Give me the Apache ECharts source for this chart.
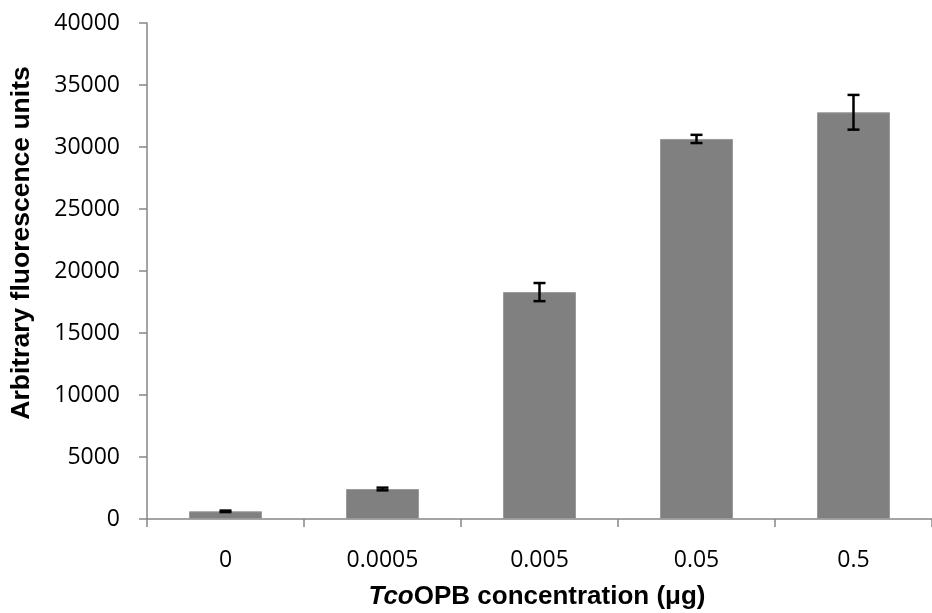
<!DOCTYPE html>
<html>
<head>
<meta charset="utf-8">
<script src="https://cdn.jsdelivr.net/npm/echarts@6/dist/echarts.min.js"></script>
<style>html,body{margin:0;padding:0;background:#fff}#c{width:932px;height:613px}</style>
</head>
<body>
<div id="c"></div>
<script>
const categories = ['0', '0.0005', '0.005', '0.05', '0.5'];
const values = [620, 2420, 18300, 30650, 32800];
const errors = [60, 110, 730, 330, 1400];
const yTicks = [0, 5000, 10000, 15000, 20000, 25000, 30000, 35000, 40000];
const xTitleItalic = 'Tco';
const xTitleRest = 'OPB concentration (μg)';
const yTitle = 'Arbitrary fluorescence units';

const chart = echarts.init(document.getElementById('c'));
const errData = categories.map((c, i) => [i, values[i] - errors[i], values[i] + errors[i]]);

chart.setOption({
  animation: false,
  backgroundColor: '#fff',
  grid: { left: 147, right: -8, top: 23, bottom: 94 },
  graphic: [
    {
      type: 'text',
      x: 22, y: 243,
      rotation: Math.PI / 2,
      style: {
        text: yTitle,
        align: 'center', verticalAlign: 'middle',
        fontFamily: 'Liberation Sans', fontWeight: 'bold', fontSize: 26.5, fill: '#000'
      }
    },
    {
      type: 'text',
      x: 537, y: 597,
      style: {
        text: '{i|' + xTitleItalic + '}{b|' + xTitleRest + '}',
        align: 'center', verticalAlign: 'middle',
        rich: {
          i: { fontFamily: 'Liberation Sans', fontWeight: 'bold', fontStyle: 'italic', fontSize: 26, fill: '#000', color: '#000' },
          b: { fontFamily: 'Liberation Sans', fontWeight: 'bold', fontSize: 26, fill: '#000', color: '#000' }
        }
      }
    }
  ],
  xAxis: {
    type: 'category',
    data: categories,
    axisLine: { lineStyle: { color: '#868686', width: 1.5 } },
    axisTick: { show: true, length: 8, lineStyle: { color: '#868686', width: 1.5 } },
    axisLabel: { margin: 30, fontFamily: 'Open Sans', fontSize: 23, color: '#000' }
  },
  yAxis: {
    type: 'value',
    min: yTicks[0],
    max: yTicks[yTicks.length - 1],
    interval: 5000,
    splitLine: { show: false },
    axisLine: { show: true, lineStyle: { color: '#868686', width: 1.5 } },
    axisTick: { show: true, length: 8, lineStyle: { color: '#868686', width: 1.5 } },
    axisLabel: { margin: 27, fontFamily: 'Open Sans', fontSize: 23, color: '#000', formatter: v => String(v) }
  },
  series: [
    {
      type: 'bar',
      data: values,
      barWidth: 73,
      itemStyle: { color: '#808080', borderColor: '#9a9a9a', borderWidth: 1 }
    },
    {
      type: 'custom',
      data: errData,
      z: 10,
      renderItem: function (params, api) {
        const x = api.value(0);
        const lo = api.coord([x, api.value(1)]);
        const hi = api.coord([x, api.value(2)]);
        const hw = 6;
        const st = { stroke: '#000', lineWidth: 2.5 };
        return {
          type: 'group',
          children: [
            { type: 'line', shape: { x1: lo[0], y1: lo[1], x2: hi[0], y2: hi[1] }, style: st },
            { type: 'line', shape: { x1: lo[0] - hw, y1: lo[1], x2: lo[0] + hw, y2: lo[1] }, style: st },
            { type: 'line', shape: { x1: hi[0] - hw, y1: hi[1], x2: hi[0] + hw, y2: hi[1] }, style: st }
          ]
        };
      }
    }
  ]
});
</script>
</body>
</html>
